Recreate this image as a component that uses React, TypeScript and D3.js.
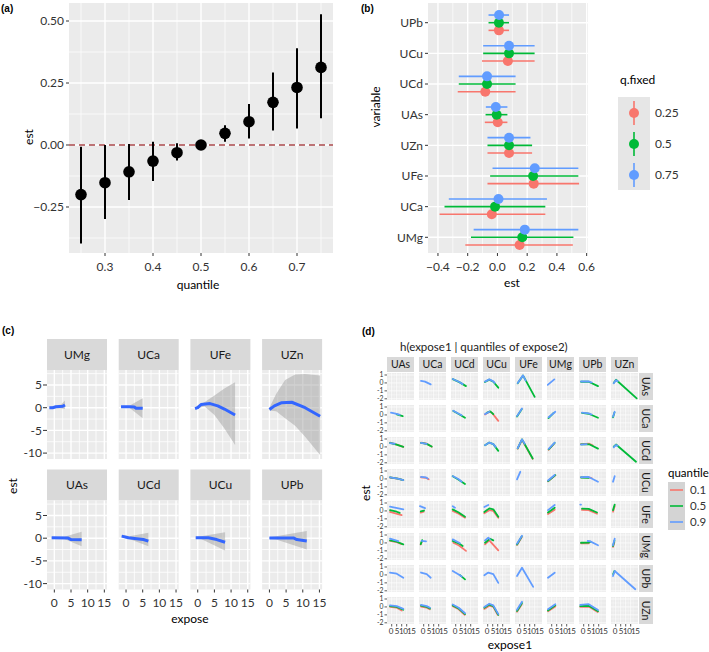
import React from "react";
import * as d3 from "d3";

// ---------------- Panel (a) data ----------------
const quantilesA = [0.25, 0.3, 0.35, 0.4, 0.45, 0.5, 0.55, 0.6, 0.65, 0.7, 0.75];
const estA = [-0.2, -0.152, -0.108, -0.065, -0.031, 0, 0.047, 0.094, 0.172, 0.232, 0.313];
const lowA = [-0.397, -0.298, -0.222, -0.145, -0.063, 0, 0.013, 0.026, 0.058, 0.067, 0.108];
const highA = [-0.007, 0, 0.004, 0.013, 0.007, 0, 0.08, 0.165, 0.292, 0.39, 0.527];
const xTicksA = [0.3, 0.4, 0.5, 0.6, 0.7];
const yTicksA = [-0.25, 0, 0.25, 0.5];

// ---------------- Panel (b) data ----------------
const variablesB = ["UPb", "UCu", "UCd", "UAs", "UZn", "UFe", "UCa", "UMg"];
const qFixedB = ["0.25", "0.5", "0.75"];
const estB = [
  [0.01, 0.07, -0.082, 0.002, 0.078, 0.244, -0.038, 0.149],
  [0.01, 0.078, -0.07, -0.005, 0.078, 0.24, -0.016, 0.167],
  [0.011, 0.078, -0.07, -0.011, 0.078, 0.251, 0.007, 0.184],
];
const lowB = [
  [-0.06, -0.104, -0.267, -0.085, -0.067, -0.067, -0.389, -0.216],
  [-0.06, -0.096, -0.26, -0.08, -0.067, -0.049, -0.356, -0.178],
  [-0.06, -0.096, -0.26, -0.078, -0.067, -0.033, -0.327, -0.16],
];
const highB = [
  [0.078, 0.25, 0.122, 0.067, 0.233, 0.549, 0.322, 0.507],
  [0.078, 0.25, 0.122, 0.067, 0.233, 0.544, 0.322, 0.511],
  [0.078, 0.25, 0.122, 0.067, 0.222, 0.544, 0.333, 0.544],
];
const xTicksB = [-0.4, -0.2, 0, 0.2, 0.4, 0.6];

// ---------------- Panel (c) data ----------------
const variablesC = ["UMg", "UCa", "UFe", "UZn", "UAs", "UCd", "UCu", "UPb"];
const linesC = [
  [[-1.5, 0], [-0.5, 0], [0.5, 0.2], [1.5, 0.25], [2.5, 0.3], [3.2, 0.6]],
  [[-1.5, 0.2], [1, 0.2], [2.5, 0.15], [3, -0.1], [5, -0.15]],
  [[-0.8, -0.2], [0, 0], [1, 0.7], [3.7, 0.9], [6, 0.4], [8, -0.3], [11.2, -1.6]],
  [[0, -0.4], [1.5, 0.4], [3.7, 1.1], [6.7, 1.2], [10.7, 0], [15.2, -1.9]],
  [[-0.8, 0.1], [4, 0.05], [5, -0.3], [8.2, -0.35]],
  [[-1.3, 0.45], [0.7, 0.1], [3.2, -0.1], [5.2, -0.3], [6.7, -0.65]],
  [[-0.6, 0.1], [3.2, 0.1], [5.7, -0.3], [8.2, -0.9]],
  [[0, 0.05], [7.2, 0.05], [8.2, -0.3], [11.2, -0.6]],
];
const bandsC = [
  [[-1.5, -0.2, 0.2], [0.5, -0.1, 0.5], [2, -0.2, 0.7], [3.2, -0.3, 1.6]],
  [[-1.5, 0.05, 0.35], [1, 0, 0.4], [5, -2.3, 2.1]],
  [[-0.8, -0.4, 0.1], [0, -0.2, 0.5], [2, 0.3, 1.2], [5, -1.6, 2.7], [8, -4.6, 4.2], [11.2, -8.2, 5.6]],
  [[0, -0.6, 0], [2, -0.8, 3], [4.7, -2.3, 6.1], [7.7, -4, 7.3], [10.7, -6.4, 7.4], [15.2, -10.4, 7.1]],
  [[-0.8, -0.05, 0.25], [3, -0.2, 0.3], [8.2, -1.8, 1.4]],
  [[-1.3, 0.2, 0.7], [1, -0.2, 0.4], [6.7, -1.8, 1.2]],
  [[-0.6, -0.1, 0.3], [1, -0.2, 0.4], [8.2, -2.7, 1.3]],
  [[0, -0.1, 0.2], [2, -0.3, 0.4], [11.2, -2.5, 1.6]],
];
const xTicksC = [0, 5, 10, 15];
const yTicksC = [-10, -5, 0, 5];

// ---------------- Panel (d) data ----------------
// each cell: [q=0.1, q=0.5, q=0.9] lines of [expose1, est]; null = no line
const variablesD = ["UAs", "UCa", "UCd", "UCu", "UFe", "UMg", "UPb", "UZn"];
const quantilesD = ["0.1", "0.5", "0.9"];
const rowUAs = [
  null,
  [null, null, [[-2.7, 0.25], [1.3, 0.17], [7, -0.18]]],
  [null, [[-3, 0.48], [3.6, 0.1], [10.3, -0.4]], [[-3, 0.5], [3.6, 0.12], [7, -0.15]]],
  [null, [[-2.7, 0.12], [1.6, 0.42], [5.6, 0.15], [10.6, -0.6]], [[-2.7, 0.16], [1.6, 0.45], [5.6, 0.2], [7, 0]]],
  [null, [[-2, -0.05], [3.3, 0.95], [15, -1.75]], [[-2, 0], [3.3, 0.95], [6, 0.3]]],
  [null, null, [[-4, -0.25], [2.6, 0.45]]],
  [null, [[-2.7, 0.15], [5, 0.15], [14.3, -0.4]], [[-2.7, 0.18], [5, 0.2], [8, 0.05]]],
  [null, [[-2, 0], [0.3, 0.4], [21, -1.95]], [[-2, -0.05], [0.3, 0.35], [2, 0.2]]],
];
const rowUCa = [
  [null, [[5, 0.08], [11, -0.16]], [[-0.7, 0.28], [6, 0.1], [8, 0]]],
  null,
  [null, [[-2.4, 0.5], [3, 0.12], [9.3, -0.35]], [[-2.4, 0.53], [3, 0.15], [6, -0.05]]],
  [[[-2.7, 0.05], [1.6, 0.4], [4, 0.3], [10.6, -0.75]], [[-1, 0.25], [2.5, 0.45], [5.6, 0.1]], [[-2.7, 0.1], [1.6, 0.4]]],
  [null, [[-2.7, -0.2], [2, 0.7]], [[-2.7, -0.15], [2.3, 0.82]]],
  [null, [[-3.2, -0.4], [2, 0.25]], [[-3, -0.3], [3.6, 0.4]]],
  [null, [[-1.7, 0.25], [5, 0.15], [14.3, -0.35]], [[-1.7, 0.28], [5, 0.2], [8, 0.05]]],
  [null, [[-2.7, -0.3], [-1.2, 0.3]], [[-2.7, -0.22], [-1, 0.4]]],
];
const rowUCd = [
  [[[-1.7, 0.55], [5, 0.3], [11.6, 0]], [[-1.7, 0.5], [5, 0.28], [11.6, 0.02]], [[-1.7, 0.48], [3, 0.4]]],
  [[[-2.7, 0.55], [3, 0.4], [8, 0.03]], [[-2.7, 0.5], [3, 0.38], [8, 0.05]], [[-2.7, 0.5], [3, 0.38]]],
  null,
  [null, [[-2.7, 0.2], [1.6, 0.55], [5.6, 0.35], [10.6, -0.5]], [[-2.7, 0.22], [1.6, 0.55], [5.6, 0.35], [8, 0]]],
  [[[-2, -0.22], [2.3, 0.9], [13, -1.5]], [[-2, -0.18], [2.3, 0.95], [13, -1.45]], [[-2, -0.15], [2.3, 0.95], [5, 0.4]]],
  [[[-3, -0.35], [2, 0.35]], [[-3, -0.3], [3, 0.5]], [[-3, -0.25], [3, 0.55]]],
  [[[-2.7, 0.35], [5.5, 0.4], [9, 0.2]], [[-2.7, 0.33], [5.5, 0.33], [14.3, -0.22]], [[-2.7, 0.3], [3, 0.35]]],
  [null, [[-2, 0.03], [0.3, 0.3], [20.3, -1.86]], [[-2, -0.05], [0.3, 0.25], [2, 0.15]]],
];
const rowUCu = [
  [[[-1.7, 0.18], [6, 0.03], [11.6, -0.15]], [[-1.7, 0.19], [6, 0.04], [11.6, -0.14]], [[-1.7, 0.2], [6, 0.05], [11.6, -0.15]]],
  [[[-2.7, 0.2], [2, 0.15], [5, -0.05]], null, [[-2.7, 0.25], [2, 0.2], [4, 0.05]]],
  [null, [[-3, 0.33], [3, -0.1], [9.3, -0.65]], [[-3, 0.36], [3, -0.05], [6, -0.35]]],
  null,
  [null, null, [[-2.7, -0.05], [0.6, 0.9]]],
  [[[-3.7, -0.3], [3.6, 0.45]], [[-3.5, -0.28], [3.6, 0.48]], [[-3.7, -0.2], [3, 0.5]]],
  [[[-2.7, 0.2], [5, 0.2], [8, 0.1]], [[-2.7, 0.18], [5, 0.15]], [[-2.7, 0.22], [5, 0.25], [14.3, -0.35]]],
  [null, null, [[-2.7, -0.35], [-1, 0.35]]],
];
const rowUFe = [
  [[[-1.7, -0.12], [10, -0.52]], [[-1.7, 0.1], [5, -0.1], [8, -0.25]], [[-1.7, 0.55], [11.6, 0.2]]],
  [[[-3, -0.2], [0, -0.1]], [[-3, -0.05], [0.3, 0.05]], [[-3.7, 0.6], [1.3, 0.35]]],
  [[[-3, 0], [3, -0.35], [9.3, -0.85]], [[-3, 0.2], [3, -0.2], [9.3, -0.73]], [[-3, 0.6], [-0.7, 0.4]]],
  [[[-3.4, -0.3], [1.6, 0.1], [5.6, 0], [10.6, -0.85]], [[-3.4, -0.14], [1.6, 0.32], [5.6, 0.2], [10.6, -0.73]], [[-3.4, 0.5], [0.6, 0.75]]],
  null,
  [[[-3.7, -0.4], [3, 0.15]], [[-3.7, -0.2], [3, 0.4]], [[-3.7, 0.1], [3, 0.75]]],
  [[[-1.7, 0.12], [5, 0.1], [13.3, -0.35]], [[-1.7, 0.28], [5, 0.25], [13.3, -0.2]], [[-3.4, 0.8], [-2.7, 0.8]]],
  [[[-2.7, -0.1], [-1, 0.6]], [[-2.7, 0.1], [-1, 0.8]], null],
];
const rowUMg = [
  [[[-1.7, 0.25], [5, 0.1], [10, -0.15]], [[-1.7, 0.32], [5, 0.15], [11.6, -0.18]], [[-1.7, 0.53], [6.6, 0.24]]],
  [[[-3, -0.2], [-2, 0.1]], [[-3, -0.15], [-1.5, 0.35]], [[-2, 0.25], [2.3, 0.2]]],
  [[[-2.4, 0.03], [3, -0.3], [10.3, -1]], [[-3, 0.24], [3, -0.05], [7, -0.4]], [[-3, 0.45], [4.3, -0.05]]],
  [[[-2.7, -0.18], [1.6, 0.32], [10.6, -0.94]], [[-2.7, 0.03], [2.3, 0.53], [5.6, 0.32]], [[-2.7, 0.32], [0.6, 0.65], [2.3, 0.45]]],
  [[[-2.7, -0.25], [2, 0.7]], [[-2.7, -0.2], [2, 0.8]], [[-2.7, -0.1], [2.3, 0.9]]],
  null,
  [[[-2.7, -0.05], [5, -0.05]], [[-2.7, 0.02], [5, 0.03], [7, 0.15]], [[4, 0.24], [6, 0.22], [14.3, -0.3]]],
  [[[-2.7, -0.5], [-1.3, 0.1]], [[-2.7, -0.4], [-1.2, 0.3]], [[-2.7, -0.3], [-1, 0.53]]],
];
const rowUPb = [
  [null, null, [[-1.7, 0.3], [5, 0.15], [11.6, -0.35]]],
  [null, null, [[-2.7, 0.3], [3, 0.1], [7, -0.35]]],
  [null, [[4, 0], [9.3, -0.56]], [[-3, 0.5], [3, 0.05], [6, -0.2]]],
  [null, null, [[-3.4, -0.05], [0.6, 0.3], [5.6, 0.1], [10.6, -1]]],
  [null, null, [[-2.7, -0.14], [2.3, 0.9], [13.5, -1.5]]],
  [null, null, [[-3.7, -0.35], [3, 0.28]]],
  null,
  [null, [[-2.5, 0.1], [-1.2, 0.5]], [[-2.7, -0.14], [-1, 0.5], [19.6, -1.8]]],
];
const rowUZn = [
  [[[-1.7, 0], [5, -0.1], [10, -0.45]], [[-1.7, 0.1], [5, 0], [11.6, -0.35]], [[-1.7, 0.2], [5, 0.1], [11.6, -0.25]]],
  [[[-2.7, 0.05], [3, -0.1], [6, -0.3]], [[-2.7, 0.15], [3, 0], [6.3, -0.2]], [[-2.7, 0.25], [3, 0.1], [6.3, -0.1]]],
  [[[-3, 0.1], [3, -0.3], [9, -1]], [[-3, 0.2], [3, -0.2], [9.3, -0.9]], [[-3, 0.3], [3, -0.1], [9.3, -0.8]]],
  [[[-3.4, -0.25], [1.6, 0.15], [5.6, 0], [10, -1]], [[-3.4, -0.1], [1.6, 0.3], [5.6, 0.1], [10.6, -1]], [[-3.4, 0], [1.6, 0.4], [5.6, 0.2], [10.6, -0.9]]],
  [[[-2.7, -0.6], [2, 0.3]], [[-2.7, -0.5], [2.3, 0.5]], [[-2.7, -0.35], [2.3, 0.65]]],
  [[[-3.7, -0.55], [3.6, 0.05]], [[-3.7, -0.45], [3.6, 0.2]], [[-3.7, -0.3], [3.6, 0.35]]],
  [[[-3.4, 0], [5, 0.05], [14, -0.65]], [[-3.4, 0.1], [5, 0.15], [14.3, -0.55]], [[-3.4, 0.25], [5, 0.35], [14.3, -0.4]]],
  null,
];
const linesD = [rowUAs, rowUCa, rowUCd, rowUCu, rowUFe, rowUMg, rowUPb, rowUZn];
const xTicksD = [0, 5, 10, 15];
const yTicksD = [-2, -1, 0, 1];

// ---------------- styling ----------------
const W = 709;
const H = 652;
const FONT = "Lato, 'Open Sans', sans-serif";
const PANEL = "#EBEBEB";
const STRIP = "#D9D9D9";
const QCOL = ["#F8766D", "#00BA38", "#619CFF"];
const TICKC = "#333";
// the crowded facet tick labels of (d) are nudged apart so they read "0 5 10 15"
const NUDGE_D = [-1, 0, 1.5, 4.5];

function PanelA() {
  const x = d3.scaleLinear().domain([0.225, 0.775]).range([69, 333]);
  const y = d3.scaleLinear().domain([-0.4355, 0.5726]).range([253, 3]);
  const xMin = [0.25, 0.35, 0.45, 0.55, 0.65, 0.75];
  const yMin = [-0.375, -0.125, 0.125, 0.375];
  const fy = d3.format(".2f");
  return (
    <g>
      <text x={1} y={12} fontSize={10} fontWeight="bold" fontFamily="Arial, Liberation Sans">(a)</text>
      <rect x={69} y={3} width={264} height={250} fill={PANEL} />
      {xMin.map((v, i) => <line key={"xm" + i} x1={x(v)} x2={x(v)} y1={3} y2={253} stroke="#fff" strokeWidth={0.7} />)}
      {yMin.map((v, i) => <line key={"ym" + i} y1={y(v)} y2={y(v)} x1={69} x2={333} stroke="#fff" strokeWidth={0.7} />)}
      {xTicksA.map((v, i) => <line key={"xM" + i} x1={x(v)} x2={x(v)} y1={3} y2={253} stroke="#fff" strokeWidth={1.4} />)}
      {yTicksA.map((v, i) => <line key={"yM" + i} y1={y(v)} y2={y(v)} x1={69} x2={333} stroke="#fff" strokeWidth={1.4} />)}
      <line x1={69} x2={333} y1={y(0)} y2={y(0)} stroke="#A8474A" strokeWidth={1.5} strokeDasharray="6,4" />
      {quantilesA.map((q, i) => (
        <g key={"p" + i}>
          <line x1={x(q)} x2={x(q)} y1={y(lowA[i])} y2={y(highA[i])} stroke="#000" strokeWidth={2} />
          <circle cx={x(q)} cy={y(estA[i])} r={5.8} fill="#000" />
        </g>
      ))}
      {yTicksA.map((v, i) => (
        <g key={"yt" + i}>
          <line x1={66} x2={69} y1={y(v)} y2={y(v)} stroke={TICKC} />
          <text x={64} y={y(v)} dy="0.35em" textAnchor="end" fontSize={12} fill={TICKC}>{fy(v)}</text>
        </g>
      ))}
      {xTicksA.map((v, i) => (
        <g key={"xt" + i}>
          <line x1={x(v)} x2={x(v)} y1={253} y2={256} stroke={TICKC} />
          <text x={x(v)} y={271} textAnchor="middle" fontSize={12} fill={TICKC}>{String(v)}</text>
        </g>
      ))}
      <text x={198} y={289} textAnchor="middle" fontSize={12}>quantile</text>
      <text transform="translate(33,137) rotate(-90)" textAnchor="middle" fontSize={12}>est</text>
    </g>
  );
}

function PanelB() {
  const x = d3.scaleLinear().domain([-0.467, 0.609]).range([428, 588]);
  const y = d3.scalePoint().domain(variablesB).range([22.7, 237.3]);
  const step = y.step();
  const dodge = [step * 0.25, 0, -step * 0.25];
  const xMin = [-0.3, -0.1, 0.1, 0.3, 0.5];
  const fx = d3.format(".1f");
  return (
    <g>
      <text x={361} y={12} fontSize={10} fontWeight="bold" fontFamily="Arial, Liberation Sans">(b)</text>
      <rect x={428} y={3} width={160} height={250} fill={PANEL} />
      {xMin.map((v, i) => <line key={"xm" + i} x1={x(v)} x2={x(v)} y1={3} y2={253} stroke="#fff" strokeWidth={0.7} />)}
      {xTicksB.map((v, i) => <line key={"xM" + i} x1={x(v)} x2={x(v)} y1={3} y2={253} stroke="#fff" strokeWidth={1.4} />)}
      {variablesB.map((v, i) => <line key={"yM" + i} y1={y(v)} y2={y(v)} x1={428} x2={588} stroke="#fff" strokeWidth={1.4} />)}
      {qFixedB.map((q, qi) => (
        <g key={"q" + qi}>
          {variablesB.map((v, i) => {
            const yy = (y(v) as number) + dodge[qi];
            return (
              <g key={"b" + i}>
                <line x1={x(lowB[qi][i])} x2={x(highB[qi][i])} y1={yy} y2={yy} stroke={QCOL[qi]} strokeWidth={1.6} />
                <circle cx={x(estB[qi][i])} cy={yy} r={5} fill={QCOL[qi]} />
              </g>
            );
          })}
        </g>
      ))}
      {variablesB.map((v, i) => (
        <g key={"yt" + i}>
          <line x1={425} x2={428} y1={y(v)} y2={y(v)} stroke={TICKC} />
          <text x={423} y={y(v)} dy="0.35em" textAnchor="end" fontSize={12} fill={TICKC}>{v}</text>
        </g>
      ))}
      {xTicksB.map((v, i) => (
        <g key={"xt" + i}>
          <line x1={x(v)} x2={x(v)} y1={253} y2={256} stroke={TICKC} />
          <text x={x(v)} y={271} textAnchor="middle" fontSize={12} fill={TICKC}>{fx(v)}</text>
        </g>
      ))}
      <text x={512} y={287} textAnchor="middle" fontSize={12}>est</text>
      <text transform="translate(380,107) rotate(-90)" textAnchor="middle" fontSize={12}>variable</text>
      <text x={620} y={84} fontSize={12}>q.fixed</text>
      <rect x={618} y={97} width={32} height={93} fill="#E6E6E6" />
      {qFixedB.map((q, qi) => {
        const cy = 113 + qi * 31;
        return (
          <g key={"lg" + qi}>
            <line x1={634} x2={634} y1={cy - 12} y2={cy + 12} stroke={QCOL[qi]} strokeWidth={1.6} />
            <circle cx={634} cy={cy} r={5} fill={QCOL[qi]} />
            <text x={655} y={cy} dy="0.35em" fontSize={12} fill={TICKC}>{q}</text>
          </g>
        );
      })}
    </g>
  );
}

function PanelC() {
  const colL = (i: number) => 47 + 71.7 * i;
  const stripT = [339, 469.5];
  const SH = 31;
  const PW = 60;
  const PH = 89;
  const xMin = [-2.5, 2.5, 7.5, 12.5];
  const yMin = [-7.5, -2.5, 2.5, 7.5];
  return (
    <g>
      <text x={2} y={334} fontSize={10} fontWeight="bold" fontFamily="Arial, Liberation Sans">(c)</text>
      {variablesC.map((v, k) => {
        const col = k % 4;
        const row = Math.floor(k / 4);
        const L = colL(col);
        const T = stripT[row] + SH;
        const x = d3.scaleLinear().domain([-2.2, 15.8]).range([L, L + PW]);
        const y = d3.scaleLinear().domain([-11.3, 8.3]).range([T + PH, T]);
        const area = d3.area<number[]>().x((d) => x(d[0])).y0((d) => y(d[1])).y1((d) => y(d[2]));
        const line = d3.line<number[]>().x((d) => x(d[0])).y((d) => y(d[1]));
        return (
          <g key={"c" + k}>
            <rect x={L} y={stripT[row]} width={PW} height={SH} fill={STRIP} />
            <text x={L + PW / 2} y={stripT[row] + SH / 2} dy="0.35em" textAnchor="middle" fontSize={12} fill="#1a1a1a">{v}</text>
            <rect x={L} y={T} width={PW} height={PH} fill={PANEL} />
            {xMin.map((t, i) => x(t) >= L && <line key={"xm" + i} x1={x(t)} x2={x(t)} y1={T} y2={T + PH} stroke="#fff" strokeWidth={0.8} />)}
            {yMin.map((t, i) => <line key={"ym" + i} y1={y(t)} y2={y(t)} x1={L} x2={L + PW} stroke="#fff" strokeWidth={0.8} />)}
            {xTicksC.map((t, i) => <line key={"xM" + i} x1={x(t)} x2={x(t)} y1={T} y2={T + PH} stroke="#fff" strokeWidth={1.4} />)}
            {yTicksC.map((t, i) => <line key={"yM" + i} y1={y(t)} y2={y(t)} x1={L} x2={L + PW} stroke="#fff" strokeWidth={1.4} />)}
            <path d={area(bandsC[k] as number[][]) || ""} fill="#999" fillOpacity={0.45} />
            <path d={line(linesC[k] as number[][]) || ""} fill="none" stroke="#3366FF" strokeWidth={3} strokeLinejoin="round" />
            {col === 0 && yTicksC.map((t, i) => (
              <g key={"yt" + i}>
                <line x1={L - 4} x2={L} y1={y(t)} y2={y(t)} stroke={TICKC} />
                <text x={L - 5} y={y(t)} dy="0.35em" textAnchor="end" fontSize={12} fill={TICKC}>{String(t)}</text>
              </g>
            ))}
            {row === 1 && xTicksC.map((t, i) => (
              <g key={"xt" + i}>
                <line x1={x(t)} x2={x(t)} y1={T + PH} y2={T + PH + 3} stroke={TICKC} />
                <text x={x(t)} y={T + PH + 17} textAnchor="middle" fontSize={12} fill={TICKC}>{String(t)}</text>
              </g>
            ))}
          </g>
        );
      })}
      <text x={190} y={623} textAnchor="middle" fontSize={12}>expose</text>
      <text transform="translate(17,486) rotate(-90)" textAnchor="middle" fontSize={12}>est</text>
    </g>
  );
}

function PanelD() {
  const colL = (i: number) => 387 + 32 * i;
  const rowT = (r: number) => 373 + 32 * r;
  const PW = 27;
  const PH = 27;
  const xMin = [-2.5, 2.5, 7.5, 12.5, 17.5];
  const yMin = [-1.5, -0.5, 0.5];
  return (
    <g>
      <defs>
        {variablesD.map((_, r) =>
          variablesD.map((__, c) => (
            <clipPath key={`cp${r}-${c}`} id={`cpd${r}-${c}`}>
              <rect x={colL(c)} y={rowT(r)} width={PW} height={PH} />
            </clipPath>
          ))
        )}
      </defs>
      <text x={362} y={335} fontSize={10} fontWeight="bold" fontFamily="Arial, Liberation Sans">(d)</text>
      <text x={400} y={351} fontSize={11.5} fill="#1a1a1a">h(expose1 | quantiles of expose2)</text>
      {variablesD.map((v, c) => (
        <g key={"ts" + c}>
          <rect x={colL(c)} y={357} width={PW} height={15} fill={STRIP} />
          <text x={colL(c) + PW / 2} y={364.5} dy="0.35em" textAnchor="middle" fontSize={10.5} fill="#1a1a1a">{v}</text>
        </g>
      ))}
      {variablesD.map((v, r) => (
        <g key={"rs" + r}>
          <rect x={639} y={rowT(r)} width={14} height={PH} fill={STRIP} />
          <text transform={`translate(646,${rowT(r) + PH / 2}) rotate(90)`} dy="0.35em" textAnchor="middle" fontSize={10.5} fill="#1a1a1a">{v}</text>
        </g>
      ))}
      {variablesD.map((rv, r) =>
        variablesD.map((cv, c) => {
          const L = colL(c);
          const T = rowT(r);
          const x = d3.scaleLinear().domain([-4.7, 22.3]).range([L, L + PW]);
          const y = d3.scaleLinear().domain([-2.15, 1.25]).range([T + PH, T]);
          const line = d3.line<number[]>().x((d) => x(d[0])).y((d) => y(d[1]));
          const cell = linesD[r][c];
          return (
            <g key={`d${r}-${c}`}>
              <rect x={L} y={T} width={PW} height={PH} fill={PANEL} />
              {xMin.map((t, i) => x(t) > L && x(t) < L + PW && <line key={"xm" + i} x1={x(t)} x2={x(t)} y1={T} y2={T + PH} stroke="#fff" strokeWidth={0.35} />)}
              {yMin.map((t, i) => <line key={"ym" + i} y1={y(t)} y2={y(t)} x1={L} x2={L + PW} stroke="#fff" strokeWidth={0.35} />)}
              {xTicksD.map((t, i) => <line key={"xM" + i} x1={x(t)} x2={x(t)} y1={T} y2={T + PH} stroke="#fff" strokeWidth={0.7} />)}
              {yTicksD.map((t, i) => <line key={"yM" + i} y1={y(t)} y2={y(t)} x1={L} x2={L + PW} stroke="#fff" strokeWidth={0.7} />)}
              {cell && (
                <g clipPath={`url(#cpd${r}-${c})`}>
                  {cell.map((pts, qi) =>
                    pts ? (
                      <path key={"l" + qi} d={line(pts as number[][]) || ""} fill="none" stroke={QCOL[qi]} strokeWidth={1.8} strokeLinecap="round" strokeLinejoin="round" />
                    ) : null
                  )}
                </g>
              )}
              {c === 0 && yTicksD.map((t, i) => (
                <g key={"yt" + i}>
                  <line x1={L - 2.5} x2={L} y1={y(t)} y2={y(t)} stroke={TICKC} strokeWidth={0.8} />
                  <text x={L - 3.5} y={y(t)} dy="0.35em" textAnchor="end" fontSize={6.8} fill={TICKC}>{String(t)}</text>
                </g>
              ))}
              {r === 7 && xTicksD.map((t, i) => (
                <g key={"xt" + i}>
                  <line x1={x(t)} x2={x(t)} y1={T + PH} y2={T + PH + 2.5} stroke={TICKC} strokeWidth={0.8} />
                  <text x={x(t) + NUDGE_D[i]} y={T + PH + 9.5} textAnchor="middle" fontSize={8} letterSpacing={-0.5} fill={TICKC}>{String(t)}</text>
                </g>
              ))}
            </g>
          );
        })
      )}
      <text x={510} y={649} textAnchor="middle" fontSize={12}>expose1</text>
      <text transform="translate(370,493) rotate(-90)" textAnchor="middle" fontSize={12}>est</text>
      <text x={668} y={477} fontSize={11.5}>quantile</text>
      <rect x={668} y={482} width={17} height={48} fill="#D4D4D4" />
      {quantilesD.map((q, qi) => {
        const cy = 490 + qi * 16;
        return (
          <g key={"lg" + qi}>
            <line x1={670} x2={683} y1={cy} y2={cy} stroke={QCOL[qi]} strokeWidth={1.6} />
            <text x={690} y={cy} dy="0.35em" fontSize={11.5} fill={TICKC}>{q}</text>
          </g>
        );
      })}
    </g>
  );
}

export default function App() {
  return (
    <svg width={W} height={H} style={{ position: "absolute", left: 0, top: 0, background: "#fff" }} fontFamily={FONT}>
      <PanelA />
      <PanelB />
      <PanelC />
      <PanelD />
    </svg>
  );
}
